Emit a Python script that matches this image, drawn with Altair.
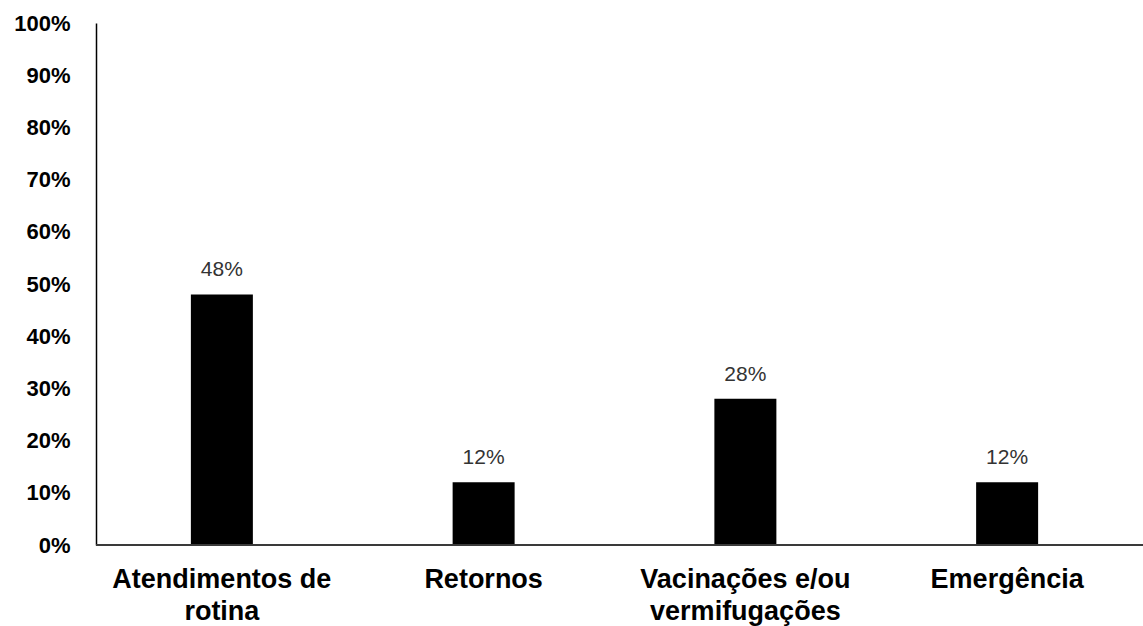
import altair as alt
import pandas as pd

# Share of consultation types (fraction of total)
categories = [
    "Atendimentos de\nrotina",
    "Retornos",
    "Vacinações e/ou\nvermifugações",
    "Emergência",
]
shares = [0.48, 0.12, 0.28, 0.12]
y_ticks = [i / 10 for i in range(11)]

df = pd.DataFrame({"categoria": categories, "valor": shares})

W, H = 1047, 522
FONT = "Liberation Sans"

x_enc = alt.X(
    "categoria:N",
    sort=categories,
    scale=alt.Scale(range=[-5, W - 5], paddingInner=0, paddingOuter=0),
    axis=alt.Axis(
        title=None,
        domain=False,
        ticks=False,
        tickSize=0,
        labelAngle=0,
        labelExpr="split(datum.label, '\\n')",
        labelFont=FONT,
        labelFontSize=27,
        labelFontWeight="bold",
        labelColor="#000000",
        labelLineHeight=32,
        labelPadding=21,
        labelLimit=0,
    ),
)
y_enc = alt.Y(
    "valor:Q",
    scale=alt.Scale(domain=[0, 1], nice=False),
    axis=alt.Axis(
        title=None,
        values=y_ticks,
        format=".0%",
        grid=False,
        ticks=False,
        tickSize=0,
        domainColor="#000000",
        domainWidth=1.5,
        labelFont=FONT,
        labelFontSize=22,
        labelFontWeight="bold",
        labelColor="#000000",
        labelPadding=26,
    ),
)

base = alt.Chart(df)

bars = base.mark_bar(size=62, color="#000000").encode(x=x_enc, y=y_enc)

labels = base.mark_text(
    baseline="alphabetic",
    dy=-18,
    font=FONT,
    fontSize=21,
    color="#333333",
).encode(
    x=alt.X("categoria:N", sort=categories),
    y="valor:Q",
    text=alt.Text("valor:Q", format=".0%"),
)

baseline = alt.Chart(df).mark_rule(color="#3a3a3a", strokeWidth=1.8).encode(
    y=alt.datum(0), x=alt.value(0), x2=alt.value(W)
)

chart = (
    alt.layer(bars, labels, baseline)
    .properties(
        width=W,
        height=H,
        autosize=alt.AutoSizeParams(type="none"),
        padding={"left": 96, "top": 23, "right": 0, "bottom": 81},
        background="#ffffff",
    )
    .configure_view(stroke=None)
)

chart.save("out.html", embed_options={"renderer": "svg", "actions": False})
